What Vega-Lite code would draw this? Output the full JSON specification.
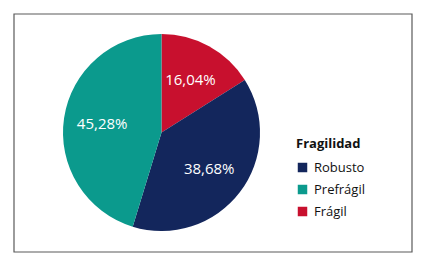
{
  "$schema": "https://vega.github.io/schema/vega-lite/v6.json",
  "width": 398,
  "height": 238,
  "padding": {"left": 14, "top": 14, "right": 17, "bottom": 8},
  "autosize": {"type": "none"},
  "background": "white",
  "config": {
    "view": {"stroke": null},
    "font": "Open Sans",
    "locale": {"number": {"decimal": ",", "thousands": ".", "grouping": [3], "currency": ["", " €"]}}
  },
  "data": {
    "values": [
      {"fragilidad": "Frágil", "valor": 0.1604, "orden": 1},
      {"fragilidad": "Robusto", "valor": 0.3868, "orden": 2},
      {"fragilidad": "Prefrágil", "valor": 0.4528, "orden": 3}
    ]
  },
  "layer": [
    {
      "data": {"values": [{"marco": 1}]},
      "mark": {"type": "rect", "fill": "transparent", "stroke": "#5a5a5a", "strokeWidth": 1.2},
      "encoding": {}
    },
    {
      "mark": {"type": "arc", "outerRadius": 98.5, "x": 147.5, "y": 118.5},
      "encoding": {
        "theta": {"field": "valor", "type": "quantitative", "stack": true},
        "order": {"field": "orden", "type": "quantitative"},
        "color": {
          "field": "fragilidad",
          "type": "nominal",
          "scale": {"domain": ["Robusto", "Prefrágil", "Frágil"], "range": ["#13265c", "#0b9a8d", "#c8102e"]},
          "legend": {
            "title": "Fragilidad",
            "orient": "none",
            "legendX": 282,
            "legendY": 124,
            "titleFontSize": 13,
            "titleFontWeight": "bold",
            "titleColor": "#111",
            "titlePadding": 10,
            "labelFontSize": 13,
            "labelColor": "#111",
            "symbolType": "square",
            "symbolSize": 90,
            "symbolStrokeWidth": 0,
            "rowPadding": 8,
            "labelOffset": 5
          }
        }
      }
    },
    {
      "mark": {"type": "text", "radius": 60, "x": 147.5, "y": 118.5, "fill": "white", "fontSize": 15},
      "encoding": {
        "theta": {"field": "valor", "type": "quantitative", "stack": true},
        "order": {"field": "orden", "type": "quantitative"},
        "text": {"field": "valor", "type": "quantitative", "format": ".2%"}
      }
    }
  ]
}
